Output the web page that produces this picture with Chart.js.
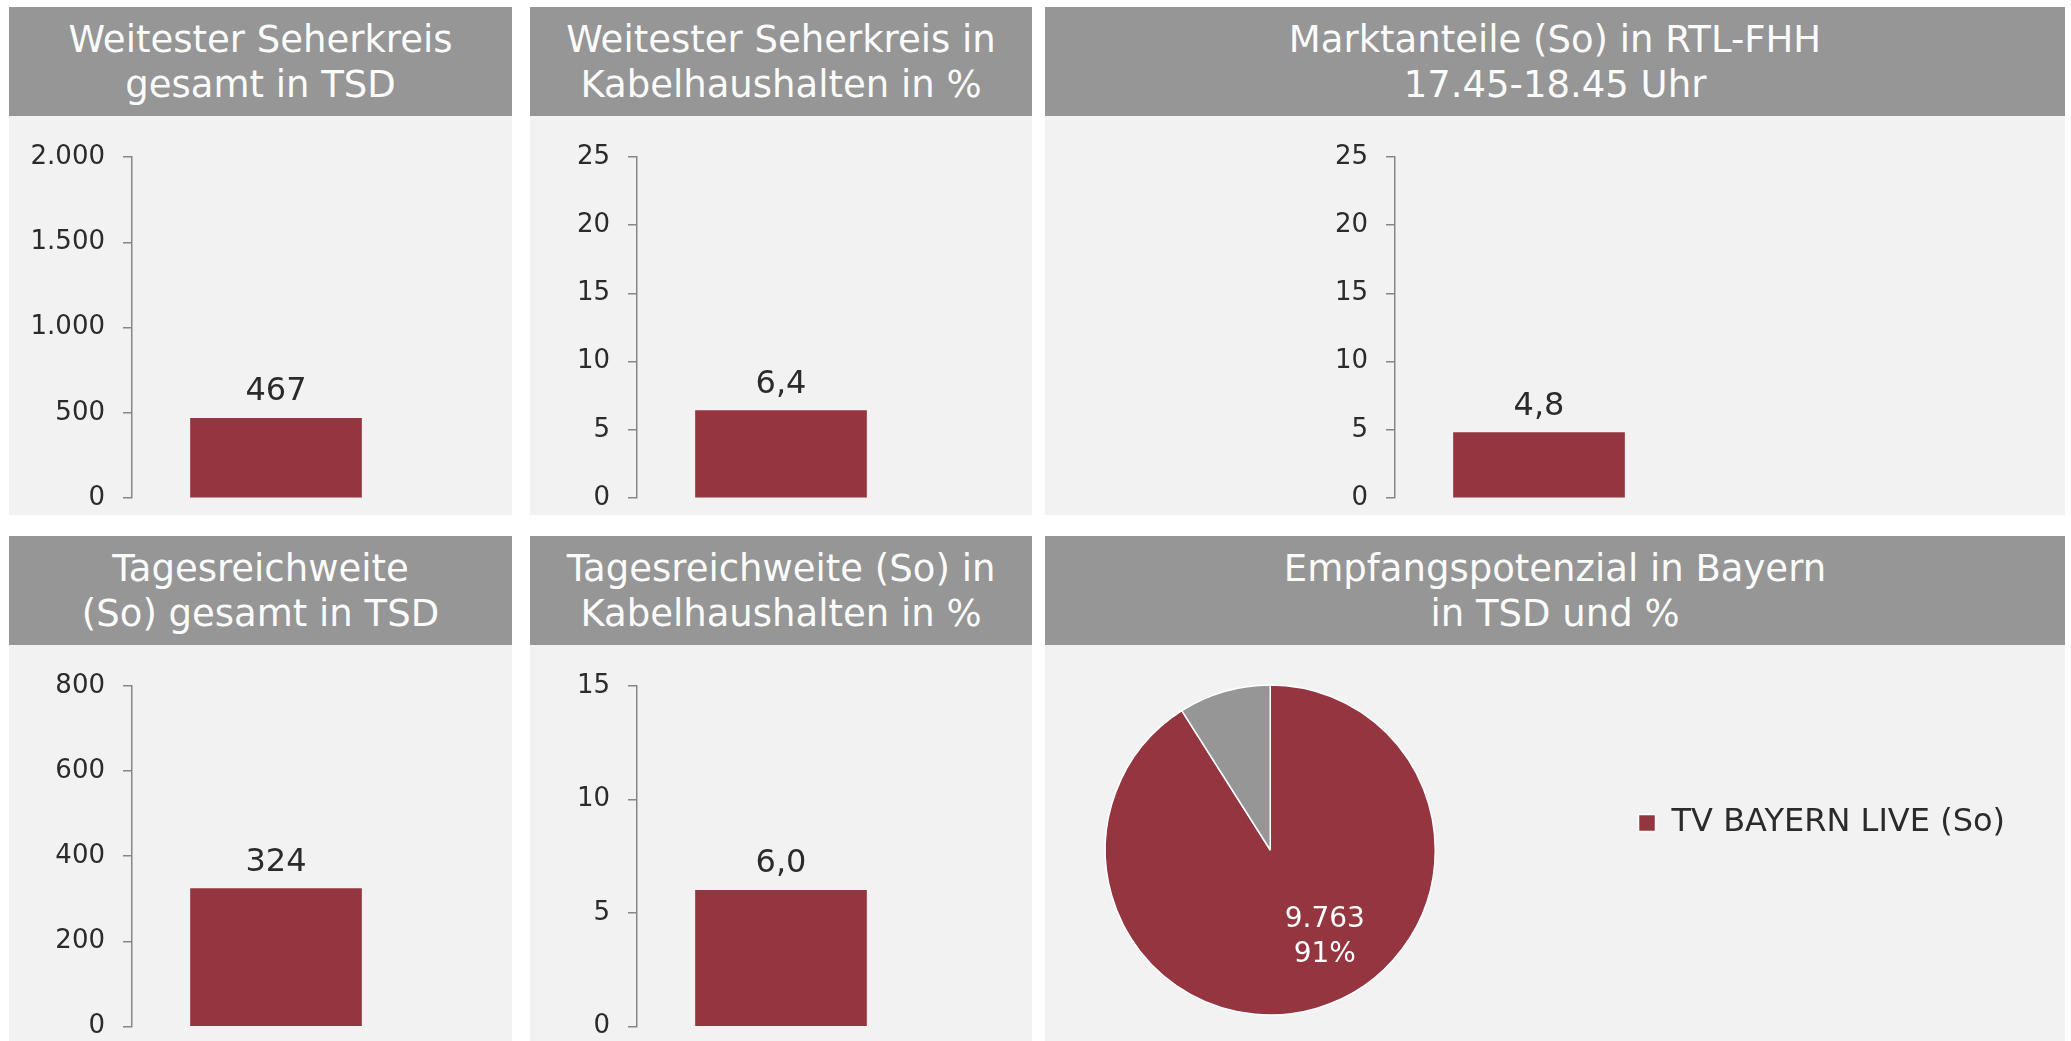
<!DOCTYPE html>
<html lang="de">
<head>
<meta charset="utf-8">
<title>TV BAYERN LIVE</title>
<script src="https://cdn.jsdelivr.net/npm/chart.js@4.4.1/dist/chart.umd.min.js"></script>
<style>
  html, body { margin: 0; padding: 0; background: #fff; overflow: hidden; width: 2071px; height: 1041px; }
  body { position: relative; font-family: "DejaVu Sans", Verdana, sans-serif; }
  .head { position: absolute; background: #959695; color: #fbfbfb; font-size: 37px; line-height: 45px;
          text-align: center; display: flex; align-items: center; justify-content: center; }
  .panel { position: absolute; background: #f2f2f2; }
  canvas { position: absolute; }
</style>
</head>
<body>

<!-- panel backgrounds -->
<div class="panel" style="left:9px;top:116px;width:503px;height:399px"></div>
<div class="panel" style="left:530px;top:116px;width:502px;height:399px"></div>
<div class="panel" style="left:1045px;top:116px;width:1020px;height:399px"></div>
<div class="panel" style="left:9px;top:645px;width:503px;height:396px"></div>
<div class="panel" style="left:530px;top:645px;width:502px;height:396px"></div>
<div class="panel" style="left:1045px;top:645px;width:1020px;height:396px"></div>

<!-- headers -->
<div class="head" style="left:9px;top:7px;width:503px;height:109px"><div>Weitester Seherkreis<br>gesamt in TSD</div></div>
<div class="head" style="left:530px;top:7px;width:502px;height:109px"><div>Weitester Seherkreis in<br>Kabelhaushalten in %</div></div>
<div class="head" style="left:1045px;top:7px;width:1020px;height:109px"><div>Marktanteile (So) in RTL-FHH<br>17.45-18.45 Uhr</div></div>
<div class="head" style="left:9px;top:536px;width:503px;height:109px"><div>Tagesreichweite<br>(So) gesamt in TSD</div></div>
<div class="head" style="left:530px;top:536px;width:502px;height:109px"><div>Tagesreichweite (So) in<br>Kabelhaushalten in %</div></div>
<div class="head" style="left:1045px;top:536px;width:1020px;height:109px"><div>Empfangspotenzial in Bayern<br>in TSD und %</div></div>

<canvas id="c1" width="503" height="419" style="left:9px;top:116px"></canvas>
<canvas id="c2" width="502" height="419" style="left:530px;top:116px"></canvas>
<canvas id="c3" width="1020" height="419" style="left:1045px;top:116px"></canvas>
<canvas id="c4" width="503" height="415" style="left:9px;top:645px"></canvas>
<canvas id="c5" width="502" height="415" style="left:530px;top:645px"></canvas>
<canvas id="c6" width="1060" height="415" style="left:1005px;top:625px"></canvas>

<script>
/* ===============================
   DATA
=============================== */
const category = ["TV BAYERN LIVE (So)"];

const seherkreisTsd = [467];          // Weitester Seherkreis gesamt in TSD
const seherkreisKabelPct = [6.4];     // Weitester Seherkreis in Kabelhaushalten in %
const marktanteilPct = [4.8];         // Marktanteile (So) in RTL-FHH
const tagesreichweiteTsd = [324];     // Tagesreichweite (So) gesamt in TSD
const tagesreichweiteKabelPct = [6.0];// Tagesreichweite (So) in Kabelhaushalten in %

const yMax = [2000, 25, 25, 800, 15];
const yStep = [500, 5, 5, 200, 5];
const labelDecimals = [0, 1, 1, 0, 1];

const pieLabels = ["TV BAYERN LIVE (So)", ""];
const pieValues = [9763, 966];

/* ===============================
   STYLE
=============================== */
const fontFamily = "'DejaVu Sans', Verdana, sans-serif";
Chart.defaults.font.family = fontFamily;
const barColor = "#953540";
const restColor = "#959695";
const axisColor = "#868686";
const textColor = "#2b2b2b";

// german number format: 2.000 / 6,4
function fmt(v, dec) {
  const parts = Number(v).toFixed(dec).split(".");
  parts[0] = parts[0].replace(/\B(?=(\d{3})+(?!\d))/g, ".");
  return parts.join(",");
}

// value above each bar
const barLabels = {
  id: "barLabels",
  afterDatasetsDraw(chart, args, opts) {
    const ctx = chart.ctx;
    const values = chart.data.datasets[0].data;
    chart.getDatasetMeta(0).data.forEach((bar, i) => {
      ctx.save();
      ctx.font = "32px " + fontFamily;
      ctx.fillStyle = textColor;
      ctx.textAlign = "center";
      ctx.textBaseline = "alphabetic";
      ctx.fillText(fmt(values[i], opts.decimals), bar.x, bar.y - 18);
      ctx.restore();
    });
  }
};

// value + percent inside slice (a bit before the mid angle, like excel)
const pieValueLabels = {
  id: "pieValueLabels",
  afterDatasetsDraw(chart) {
    const ctx = chart.ctx;
    const values = chart.data.datasets[0].data;
    const total = values.reduce((s, v) => s + v, 0);
    chart.getDatasetMeta(0).data.forEach((arc, i) => {
      if (!chart.data.labels[i]) return;
      const p = arc.getProps(["x", "y", "startAngle", "endAngle", "outerRadius"], true);
      const mid = (p.startAngle + p.endAngle) / 2 - 0.28;
      const r = p.outerRadius * 0.62;
      const x = p.x + Math.cos(mid) * r;
      const y = p.y + Math.sin(mid) * r;
      ctx.save();
      ctx.font = "28px " + fontFamily;
      ctx.fillStyle = "#ffffff";
      ctx.textAlign = "center";
      ctx.textBaseline = "middle";
      ctx.fillText(fmt(values[i], 0), x, y - 17);
      ctx.fillText(Math.round(values[i] / total * 100) + "%", x, y + 18);
      ctx.restore();
    });
  }
};

/* ===============================
   BAR CHARTS
=============================== */
function makeBar(id, values, i, lay) {
  new Chart(document.getElementById(id), {
    type: "bar",
    data: {
      labels: category,
      datasets: [{ data: values, backgroundColor: barColor, barThickness: 171 }]
    },
    options: {
      responsive: false,
      animation: false,
      events: [],
      layout: { padding: { left: 0, top: lay.top, right: lay.right, bottom: lay.bottom } },
      plugins: {
        legend: { display: false },
        tooltip: { enabled: false },
        barLabels: { decimals: labelDecimals[i] }
      },
      scales: {
        x: { display: false },
        y: {
          min: 0,
          max: yMax[i],
          afterFit: s => { s.width = lay.axis; },
          border: { display: true, color: axisColor, width: 1.5 },
          grid: { drawOnChartArea: false, drawTicks: true, tickLength: 9, color: axisColor, lineWidth: 1.5 },
          ticks: {
            stepSize: yStep[i],
            padding: 18,
            color: textColor,
            font: { size: 26 },
            callback: v => fmt(v, 0)
          }
        }
      }
    },
    plugins: [barLabels]
  });
}

makeBar("c1", seherkreisTsd, 0, { axis: 123, right: 92, top: 41, bottom: 37 });
makeBar("c2", seherkreisKabelPct, 1, { axis: 107, right: 107, top: 41, bottom: 37 });
makeBar("c3", marktanteilPct, 2, { axis: 350, right: 382, top: 41, bottom: 37 });
makeBar("c4", tagesreichweiteTsd, 3, { axis: 123, right: 92, top: 41, bottom: 33 });
makeBar("c5", tagesreichweiteKabelPct, 4, { axis: 107, right: 107, top: 41, bottom: 33 });

/* ===============================
   PIE – EMPFANGSPOTENZIAL
=============================== */
new Chart(document.getElementById("c6"), {
  type: "pie",
  data: {
    labels: pieLabels,
    datasets: [{
      data: pieValues,
      backgroundColor: [barColor, restColor],
      borderColor: "#ffffff",
      borderWidth: 1.5,
      radius: 165
    }]
  },
  options: {
    responsive: false,
    animation: false,
    events: [],
    layout: { padding: { left: 0, top: 0, right: 50, bottom: 19 } },
    plugins: {
      tooltip: { enabled: false },
      // empty spacer so the pie sits lower than the legend
      title: {
        display: true, text: " ", fullSize: false, position: "top",
        font: { size: 10, lineHeight: 1.2 }, padding: { top: 0, bottom: 42 }
      },
      legend: {
        position: "right",
        align: "center",
        labels: {
          padding: 103,
          boxWidth: 17,
          boxHeight: 17,
          color: textColor,
          font: { size: 32 },
          filter: item => item.text !== ""
        }
      }
    }
  },
  plugins: [pieValueLabels]
});
</script>
</body>
</html>
